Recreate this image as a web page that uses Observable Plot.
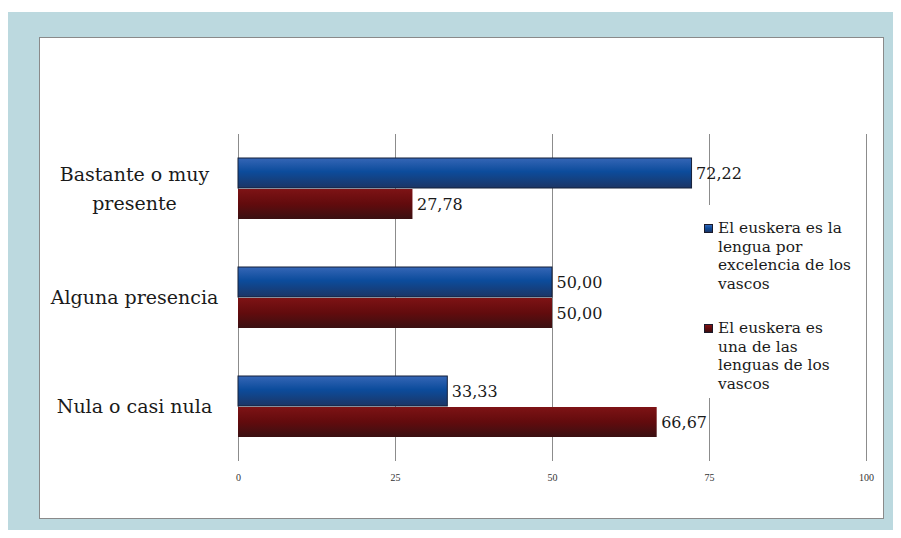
<!DOCTYPE html>
<html>
<head>
<meta charset="utf-8">
<script src="https://cdn.jsdelivr.net/npm/d3@7"></script>
<script src="https://cdn.jsdelivr.net/npm/@observablehq/plot@0.6"></script>
<style>
  html, body { margin: 0; padding: 0; background: #ffffff; }
  #page { position: relative; width: 901px; height: 538px; overflow: hidden; }
  #outer { position: absolute; left: 8px; top: 12px; width: 885px; height: 518px; background: #bcd9df; }
  #panel { position: absolute; left: 39px; top: 37px; width: 845px; height: 482px; box-sizing: border-box; background: #ffffff; border: 1px solid #8a8a8a; }
  #chart { position: absolute; left: 0; top: 0; }
  #legend { position: absolute; left: 700px; top: 205px; width: 160px; height: 193px; background: #ffffff;
            font-family: "DejaVu Serif", serif; font-size: 15.4px; line-height: 18.5px; color: #1a1a1a; padding-top: 14px; box-sizing: border-box; }
  .item { position: relative; padding-left: 18px; margin-bottom: 26px; white-space: pre-line; }
  .sw { position: absolute; left: 4px; top: 5px; width: 9px; height: 9px; box-sizing: border-box; border: 1px solid #1a1a2a; }
</style>
</head>
<body>
<div id="page">
  <div id="outer"></div>
  <div id="panel"></div>
  <div id="chart"></div>
  <div id="legend"></div>
</div>
<script>
// ---- data ----
const categories = ["Bastante o muy presente", "Alguna presencia", "Nula o casi nula"];
const categoryLabels = ["Bastante o muy\npresente", "Alguna presencia", "Nula o casi nula"];
const series = ["El euskera es la lengua por excelencia de los vascos", "El euskera es una de las lenguas de los vascos"];
const legendLabels = ["El euskera es la\nlengua por\nexcelencia de los\nvascos", "El euskera es\nuna de las\nlenguas de los\nvascos"];
const valuesExcelencia = [72.22, 50.00, 33.33];
const valuesUnaDe = [27.78, 50.00, 66.67];
const xTicks = [0, 25, 50, 75, 100];

const rows = [];
categories.forEach((c, i) => {
  rows.push({category: c, series: series[0], value: valuesExcelencia[i]});
  rows.push({category: c, series: series[1], value: valuesUnaDe[i]});
});
const fmt = v => v.toFixed(2).replace(".", ",");
const labelOf = new Map(categories.map((c, i) => [c, categoryLabels[i]]));

const plot = Plot.plot({
  width: 901,
  height: 500,
  marginLeft: 238,
  marginRight: 35,
  marginTop: 133,
  marginBottom: 38,
  style: {background: "transparent", fontFamily: "DejaVu Serif, serif", color: "#1a1a1a"},
  x: {domain: [0, 100], axis: null, label: null},
  fy: {domain: categories, padding: 0, axis: null},
  y: {domain: series, paddingInner: 0.03, paddingOuter: 0.745, axis: null},
  color: {domain: series, range: ["url(#gBlue)", "url(#gRed)"]},
  marks: [
    Plot.ruleX(xTicks, {stroke: "#8c8c8c", strokeWidth: 1}),
    Plot.barX(rows.filter(d => d.series === series[0]), {fy: "category", y: "series", x: "value", fill: "series", stroke: "#15203a", strokeWidth: 1}),
    Plot.barX(rows.filter(d => d.series === series[1]), {fy: "category", y: "series", x: "value", fill: "series"}),
    Plot.text(rows, {fy: "category", y: "series", x: "value", text: d => fmt(d.value), dx: 4, textAnchor: "start", fontSize: 16, fill: "#1a1a1a"}),
    Plot.text(categories, {fy: d => d, text: d => labelOf.get(d), frameAnchor: "left", dx: -104, dy: -3, textAnchor: "middle", fontSize: 19, lineHeight: 1.55, fill: "#1a1a1a"}),
    Plot.axisX({ticks: xTicks, tickSize: 0, tickPadding: 12, fontSize: 10, fontFamily: "Liberation Serif, serif", fill: "#333333", label: null})
  ]
});

plot.insertAdjacentHTML("afterbegin", `
<defs>
  <linearGradient id="gBlue" x1="0" y1="0" x2="0" y2="1">
    <stop offset="0" stop-color="#3566b6"/>
    <stop offset="0.45" stop-color="#0c4c9c"/>
    <stop offset="1" stop-color="#1c3565"/>
  </linearGradient>
  <linearGradient id="gRed" x1="0" y1="0" x2="0" y2="1">
    <stop offset="0" stop-color="#7e1315"/>
    <stop offset="0.5" stop-color="#620b0d"/>
    <stop offset="1" stop-color="#3a1012"/>
  </linearGradient>
</defs>`);
document.getElementById("chart").appendChild(plot);

const legend = document.getElementById("legend");
const swatchBg = ["linear-gradient(#3566b6, #0c4c9c 45%, #1c3565)", "linear-gradient(#7e1315, #620b0d 50%, #3a1012)"];
series.forEach((s, i) => {
  const item = document.createElement("div");
  item.className = "item";
  item.textContent = legendLabels[i];
  const sw = document.createElement("span");
  sw.className = "sw";
  sw.style.background = swatchBg[i];
  item.prepend(sw);
  legend.appendChild(item);
});
</script>
</body>
</html>
